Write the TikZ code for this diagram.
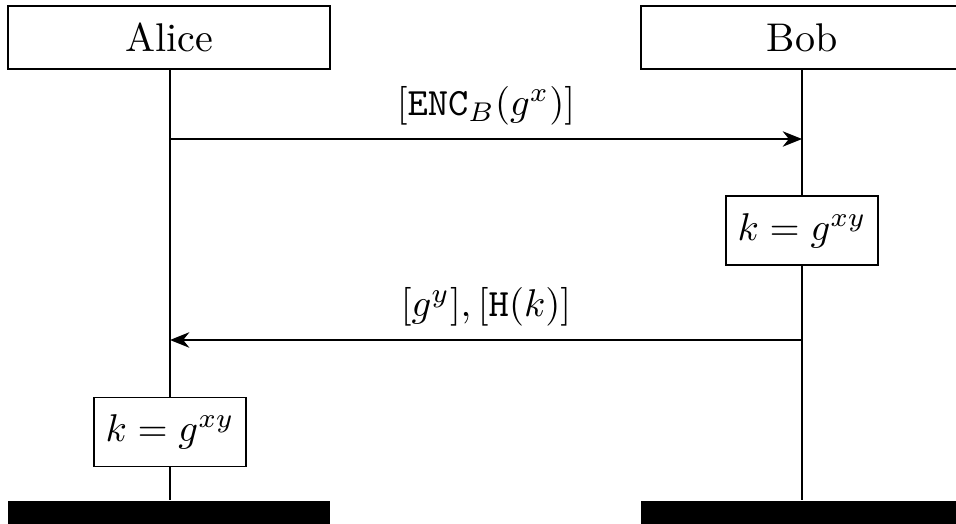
\documentclass[tikz,border=0pt]{standalone}
\usetikzlibrary{arrows.meta}
\begin{document}
\begin{tikzpicture}[x=0.2584pt,y=-0.2584pt,
  every node/.style={font=\fontsize{10.35pt}{12.4pt}\selectfont},
  inst/.style={draw,line width=0.45pt,minimum width=83.2pt,minimum height=16.3pt,inner sep=0pt},
  act/.style={draw,line width=0.45pt,minimum width=39.3pt,minimum height=17.8pt,inner sep=0pt},
  life/.style={line width=0.4pt},
  msg/.style={line width=0.4pt,-{Stealth[length=5pt,width=4pt,inset=1.6pt]}},
  endbar/.style={fill=black,draw=none,minimum width=83.2pt,minimum height=8pt,inner sep=0pt,anchor=north}]
\useasboundingbox (0,0) rectangle (956,523);
\node[inst] (alice) at (169,37.5) {Alice};
\node[inst] (bob) at (802,37.5) {Bob};
\node[act] (kb) at (802,230.5) {$k = g^{xy}$};
\node[act] (ka) at (170,432) {$k = g^{xy}$};
\node[endbar] (enda) at (169,500) {};
\node[endbar] (endb) at (802,500) {};
\coordinate (a1) at (170,139);
\coordinate (b1) at (802,139);
\coordinate (a2) at (170,340);
\coordinate (b2) at (802,340);
\draw[life] (alice.south -| a1) -- (ka.north);
\draw[life] (ka.south) -- (enda.north -| a1);
\draw[life] (bob.south -| b1) -- (kb.north);
\draw[life] (kb.south) -- (endb.north -| b1);
\draw[msg] (a1) -- node[above] {$[\mathtt{ENC}_B(g^x)]$} (b1);
\draw[msg] (b2) -- node[above] {$[g^y], [\mathtt{H}(k)]$} (a2);
\end{tikzpicture}
\end{document}
